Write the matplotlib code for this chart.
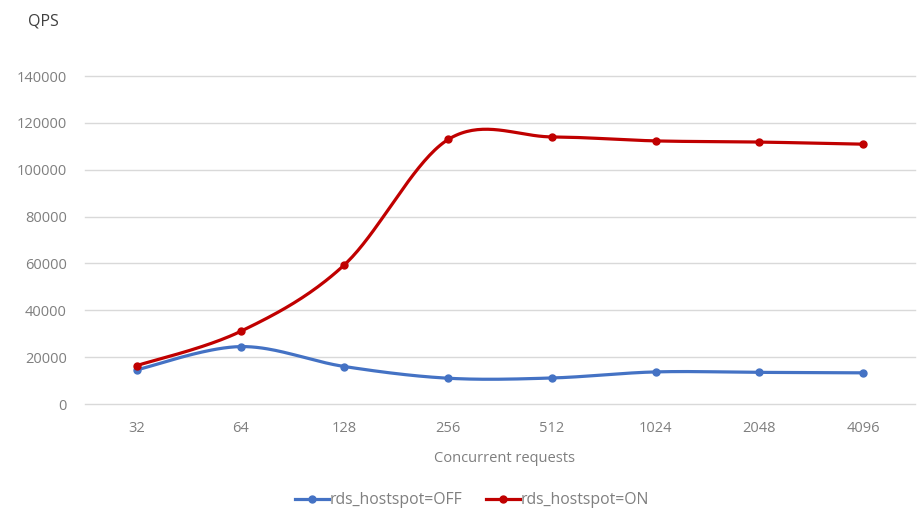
import numpy as np
import matplotlib
matplotlib.use("Agg")
import matplotlib.pyplot as plt

plt.rcParams['font.family'] = ['Open Sans', 'DejaVu Sans']

# Benchmark results
concurrency = ["32", "64", "128", "256", "512", "1024", "2048", "4096"]
qps_off = [14600, 24500, 16000, 11000, 11100, 13700, 13500, 13300]
qps_on = [16400, 31000, 59400, 112900, 114000, 112300, 111800, 110900]
series_names = ["rds_hostspot=OFF", "rds_hostspot=ON"]
y_ticks = [0, 20000, 40000, 60000, 80000, 100000, 120000, 140000]


def smooth(x, y, n=40):
    """Catmull-Rom style smoothing through every point (spreadsheet-like)."""
    x = np.asarray(x, float)
    y = np.asarray(y, float)
    px = np.concatenate([[x[0]], x, [x[-1]]])
    py = np.concatenate([[y[0]], y, [y[-1]]])
    xs, ys = [], []
    for i in range(1, len(px) - 2):
        p0, p1, p2, p3 = (np.array([px[j], py[j]]) for j in (i - 1, i, i + 1, i + 2))
        c1 = p1 + (p2 - p0) / 6.0
        c2 = p2 - (p3 - p1) / 6.0
        t = np.linspace(0, 1, n)[:, None]
        b = ((1 - t) ** 3) * p1 + 3 * ((1 - t) ** 2) * t * c1 + 3 * (1 - t) * t ** 2 * c2 + t ** 3 * p2
        xs.append(b[:, 0])
        ys.append(b[:, 1])
    return np.concatenate(xs), np.concatenate(ys)


fig = plt.figure(figsize=(9.17, 5.12), dpi=100)
ax = fig.add_axes([85 / 917, 1 - 404 / 512, 830 / 917, 328 / 512])

x = np.arange(len(concurrency))
colors = ["#4472C4", "#C00000"]
for vals, name, c in zip([qps_off, qps_on], series_names, colors):
    sx, sy = smooth(x, vals)
    ax.plot(sx, sy, color=c, lw=2.3, solid_capstyle='round', zorder=3)
    ax.plot(x, vals, 'o', color=c, ms=5, zorder=4)
    ax.plot([], [], color=c, lw=2.3, marker='o', ms=5, label=name)

ax.set_xlim(-0.5, len(concurrency) - 0.5)
ax.set_ylim(0, 140000)
ax.set_yticks(y_ticks)
ax.set_yticklabels([str(v) for v in y_ticks])
ax.set_xticks(x)
ax.set_xticklabels(concurrency)
ax.grid(axis='y', color='#D9D9D9', lw=1)
for gl in ax.get_ygridlines():
    gl.set_clip_on(False)
ax.set_axisbelow(True)
for s in ax.spines.values():
    s.set_visible(False)
ax.tick_params(length=0, colors='#7F7F7F', labelsize=10.5)
ax.tick_params(axis='y', pad=13)
ax.tick_params(axis='x', pad=12)

fig.text(43 / 917, 1 - 22 / 512, "QPS", fontsize=11.5, color='#404040', ha='center', va='center')
fig.text(505 / 917, 1 - 459 / 512, "Concurrent requests", fontsize=10.5, color='#7F7F7F',
         ha='center', va='center')

fig.legend(loc='center', bbox_to_anchor=(472 / 917, 1 - 500 / 512), ncol=2, frameon=False,
           fontsize=11.3, labelcolor='#7F7F7F', handlelength=2.15, handletextpad=0.05,
           columnspacing=1.5)

fig.savefig("out.png", dpi=100, facecolor='white')
